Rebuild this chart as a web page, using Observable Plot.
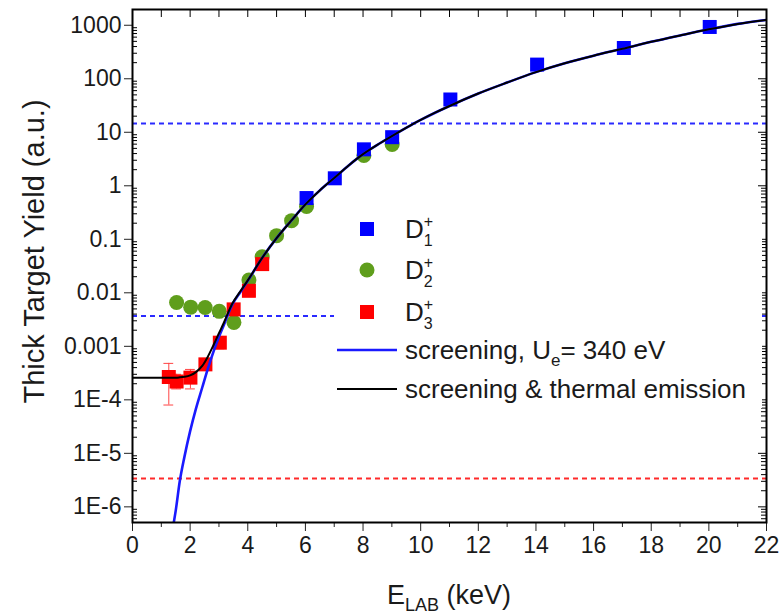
<!DOCTYPE html>
<html>
<head>
<meta charset="utf-8">
<script src="https://cdn.jsdelivr.net/npm/d3@7"></script>
<script src="https://cdn.jsdelivr.net/npm/@observablehq/plot@0.6"></script>
<style>
  html, body { margin: 0; padding: 0; background: #fff; }
  #chart { width: 783px; height: 615px; }
</style>
</head>
<body>
<div id="chart"></div>
<script>
// ---- data ----
const d1x = [6.04, 7.02, 8.03, 9.01, 11.03, 14.04, 17.05, 20.03];
const d1y = [0.59, 1.38, 4.8, 8.1, 41, 184, 376, 929];

const d2x = [1.53, 2.02, 2.52, 3.01, 3.52, 4.04, 4.5, 5.0, 5.52, 6.04, 8.03, 9.01];
const d2y = [0.0066, 0.0054, 0.0053, 0.0045, 0.0028, 0.0173, 0.047, 0.117, 0.223, 0.41, 3.7, 5.9];

const d3x  = [1.26, 1.53, 2.01, 2.53, 3.03, 3.51, 4.04, 4.5];
const d3y  = [2.67e-4, 2.2e-4, 2.6e-4, 4.6e-4, 1.17e-3, 4.9e-3, 0.0109, 0.0344];
const d3lo = [8.0e-5, 1.6e-4, 1.6e-4, null, 9.0e-4, null, null, null];
const d3hi = [4.8e-4, 3.0e-4, 3.7e-4, null, 1.4e-3, null, null, null];

// screening curve (Ue = 340 eV)
const scrX = [1.43, 1.5, 1.64, 1.8, 2.0, 2.2, 2.42, 2.6, 2.82, 3.0, 3.17, 3.46, 3.75, 4.0, 4.5, 5.0, 5.5, 6.0, 6.5, 7.0, 7.5, 8.0, 8.6, 9.0, 9.65, 10.0, 10.5, 11, 12, 13, 14, 15, 16, 17, 18, 19, 20, 21, 22];
const scrY = [5e-7, 8.5e-7, 3.0e-6, 8.5e-6, 2.6e-5, 6.8e-5, 1.7e-4, 3.6e-4, 8.2e-4, 1.5e-3, 2.5e-3, 6.0e-3, 0.0105, 0.0168, 0.045, 0.105, 0.22, 0.45, 0.82, 1.4, 2.4, 3.9, 6.3, 8.5, 13.5, 17, 23.2, 31, 53, 85, 133, 195, 270, 363, 490, 645, 840, 1060, 1260];

// screening & thermal emission curve
const thX = [0, 0.5, 1.0, 1.5, 1.64, 1.8, 2.0, 2.2, 2.42, 2.6, 2.82, 3.0, 3.17, 3.46, 3.75, 4.0, 4.5, 5.0, 5.5, 6.0, 6.5, 7.0, 7.5, 8.0, 8.6, 9.0, 9.65, 10.0, 10.5, 11, 12, 13, 14, 15, 16, 17, 18, 19, 20, 21, 22];
const thY = [2.6e-4, 2.6e-4, 2.6e-4, 2.6e-4, 2.63e-4, 2.69e-4, 2.86e-4, 3.3e-4, 4.3e-4, 6.2e-4, 1.08e-3, 1.76e-3, 2.76e-3, 6.26e-3, 0.0108, 0.0171, 0.045, 0.105, 0.22, 0.45, 0.82, 1.4, 2.4, 3.9, 6.3, 8.5, 13.5, 17, 23.2, 31, 53, 85, 133, 195, 270, 363, 490, 645, 840, 1060, 1260];

// horizontal dashed reference levels
const blueLevels = [14.6, 0.0037];
const redLevels  = [3.4e-6];

// axes
const xMajor = [0, 2, 4, 6, 8, 10, 12, 14, 16, 18, 20, 22];
const xMinor = [1, 3, 5, 7, 9, 11, 13, 15, 17, 19, 21];
const yMajor = [1e-6, 1e-5, 1e-4, 1e-3, 1e-2, 1e-1, 1, 10, 100, 1000];
const xLabel = "E";
const xLabelSub = "LAB";
const xLabelTail = " (keV)";
const yLabel = "Thick Target Yield (a.u.)";

// ---- build tables ----
const D1 = d1x.map((x, i) => ({x, y: d1y[i]}));
const D2 = d2x.map((x, i) => ({x, y: d2y[i]}));
const D3 = d3x.map((x, i) => ({x, y: d3y[i], lo: d3lo[i], hi: d3hi[i]}));
const D3err = D3.filter(d => d.lo != null);
const SCR = scrX.map((x, i) => ({x, y: scrY[i]}));
const TH = thX.map((x, i) => ({x, y: thY[i]}));
const yMinor = [];
for (let e = -7; e <= 3; e++) for (let m = 2; m <= 9; m++) {
  const v = m * Math.pow(10, e);
  if (v > 5.1e-7 && v < 1970) yMinor.push(v);
}

const W = 783, H = 615, ML = 132, MR = 17, MT = 9, MB = 93;
const IW = W - ML - MR, IH = H - MT - MB;
const FONT = "'Liberation Sans', Arial, Helvetica, sans-serif";

const fmtY = v => v < 0.001 ? "1E" + Math.round(Math.log10(v)) : String(+v.toPrecision(1));

const BLUE = "#0000ff", GREEN = "#5f9e1c", RED = "#ff0000";
const sq = 14 / Math.sqrt(Math.PI);

const chart = Plot.plot({
  width: W, height: H,
  marginLeft: ML, marginRight: MR, marginTop: MT, marginBottom: MB,
  style: {fontFamily: FONT, fontSize: "23px", color: "#222", background: "#fff"},
  x: {domain: [0, 22]},
  y: {type: "log", domain: [5.1e-7, 1970]},
  marks: [
    // dashed levels
    Plot.ruleY(blueLevels, {stroke: "#2a2aff", strokeWidth: 2, strokeDasharray: "5,4"}),
    Plot.ruleY(redLevels, {stroke: "#ff2a2a", strokeWidth: 2, strokeDasharray: "5,4"}),
    // error bars
    Plot.ruleX(D3err, {x: "x", y1: "lo", y2: "hi", stroke: "#ff4444", strokeWidth: 1}),
    Plot.ruleY(D3err, {y: "lo", x1: d => d.x - 0.17, x2: d => d.x + 0.17, stroke: "#ff4444", strokeWidth: 1}),
    Plot.ruleY(D3err, {y: "hi", x1: d => d.x - 0.17, x2: d => d.x + 0.17, stroke: "#ff4444", strokeWidth: 1}),
    // markers
    Plot.dot(D2, {x: "x", y: "y", r: 7.5, fill: GREEN, stroke: "none"}),
    Plot.dot(D3, {x: "x", y: "y", symbol: "square", r: sq, fill: RED, stroke: "none"}),
    Plot.dot(D1, {x: "x", y: "y", symbol: "square", r: sq, fill: BLUE, stroke: "none"}),
    // curves
    Plot.line(SCR, {x: "x", y: "y", curve: "monotone-x", stroke: "#1a1aff", strokeWidth: 2.6, clip: true}),
    Plot.line(TH, {x: "x", y: "y", curve: "monotone-x", stroke: "#000", strokeWidth: 2, clip: true}),
    // axes
    Plot.axisX(xMajor, {anchor: "bottom", tickSize: 9, tickPadding: 5, tickFormat: d => String(d), label: null, fontSize: 23}),
    Plot.axisX(xMinor, {anchor: "bottom", tickSize: 5, tickFormat: () => "", label: null}),
    Plot.tickX(d3.range(1, 22), {x: d => d, insetBottom: IH - 8, stroke: "#000"}),
    Plot.axisY(yMajor, {anchor: "left", tickSize: 8, tickPadding: 3, tickFormat: fmtY, label: null, fontSize: 23}),
    Plot.tickY(yMinor, {y: d => d, insetRight: IW - 5, stroke: "#000"}),
    Plot.tickY(yMajor, {y: d => d, insetLeft: IW - 8, stroke: "#000"}),
    Plot.tickY(yMinor, {y: d => d, insetLeft: IW - 5, stroke: "#000"}),
    Plot.frame({stroke: "#000", strokeWidth: 2})
  ]
});
document.getElementById("chart").appendChild(chart);

// ---- titles & legend ----
const svg = d3.select(chart);
svg.selectAll("text").attr("fill", "#1a1a1a");

// y title
svg.append("text")
  .attr("transform", `translate(44,${MT + IH / 2 - 14}) rotate(-90)`)
  .attr("text-anchor", "middle")
  .style("font-family", FONT).style("font-size", "29px").attr("fill", "#1a1a1a")
  .text(yLabel);

// x title
const xt = svg.append("text")
  .attr("x", ML + IW / 2).attr("y", 604)
  .attr("text-anchor", "middle")
  .style("font-family", FONT).style("font-size", "27px").attr("fill", "#1a1a1a");
xt.append("tspan").text(xLabel);
xt.append("tspan").attr("dy", 7).style("font-size", "18px").text(xLabelSub);
xt.append("tspan").attr("dy", -7).text(xLabelTail);

// legend
const lg = svg.append("g").style("font-family", FONT).attr("fill", "#1a1a1a").attr("text-anchor", "start");
lg.append("rect").attr("x", 334).attr("y", 208).attr("width", 428).attr("height", 200).attr("fill", "#fff");

const legendMarks = [
  {label: "1", color: BLUE, shape: "square", cy: 229},
  {label: "2", color: GREEN, shape: "circle", cy: 270},
  {label: "3", color: RED, shape: "square", cy: 312}
];
legendMarks.forEach(m => {
  if (m.shape === "square") {
    lg.append("rect").attr("x", 367 - 7).attr("y", m.cy - 7).attr("width", 14).attr("height", 14).attr("fill", m.color);
  } else {
    lg.append("circle").attr("cx", 367).attr("cy", m.cy).attr("r", 7.5).attr("fill", m.color);
  }
  const t = lg.append("text").attr("x", 405).attr("y", m.cy + 9).attr("text-anchor", "start").style("font-size", "26px");
  t.append("tspan").text("D");
  t.append("tspan").attr("dy", -11).style("font-size", "16px").text("+");
  t.append("tspan").attr("dx", -9.3).attr("dy", 19).style("font-size", "16px").text(m.label);
});

const legendLines = [
  {color: "#1a1aff", w: 2.6, cy: 350, parts: [["screening, U", 0, 26], ["e", 7, 17], ["= 340 eV", -7, 26]]},
  {color: "#000", w: 2, cy: 389, parts: [["screening & thermal emission", 0, 26]]}
];
legendLines.forEach(l => {
  lg.append("line").attr("x1", 337).attr("x2", 397).attr("y1", l.cy).attr("y2", l.cy)
    .attr("stroke", l.color).attr("stroke-width", l.w);
  const t = lg.append("text").attr("x", 405).attr("y", l.cy + 9).attr("text-anchor", "start").style("font-size", "26px");
  l.parts.forEach(([s, dy, fs]) => t.append("tspan").attr("dy", dy).style("font-size", fs + "px").text(s));
});
</script>
</body>
</html>
